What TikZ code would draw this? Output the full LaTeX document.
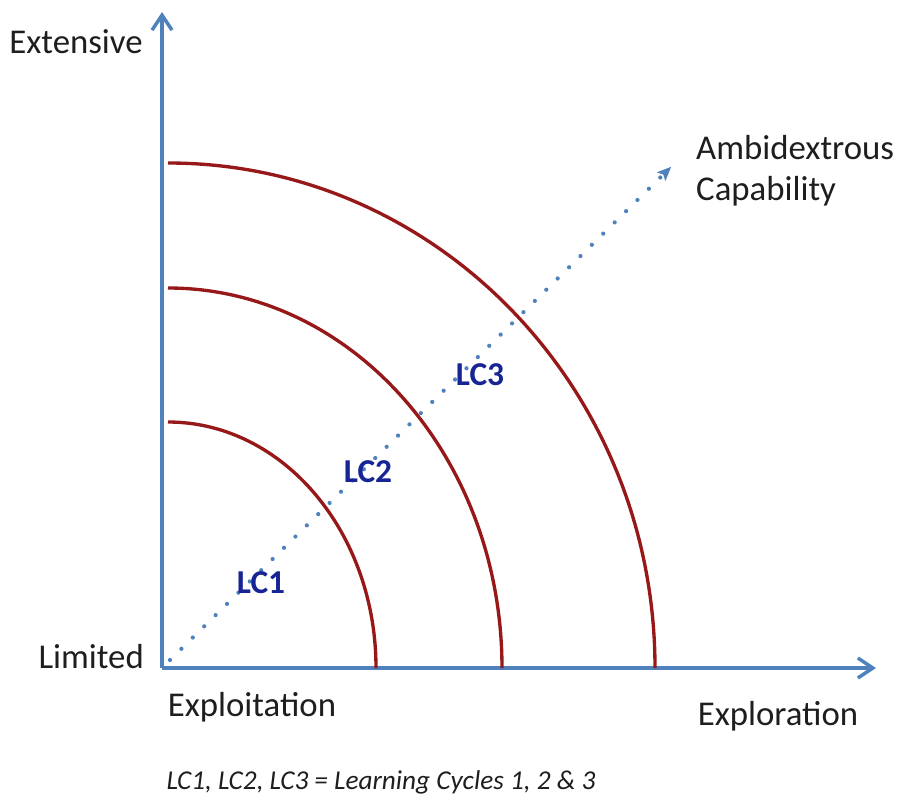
\documentclass[tikz,border=0pt]{standalone}
\usepackage{fontspec}
\setmainfont{Carlito}
\usepackage{tikz}
\usetikzlibrary{arrows.meta}

\definecolor{axisblue}{RGB}{79,129,189}
\definecolor{cyclered}{RGB}{150,24,24}
\definecolor{lcblue}{RGB}{22,36,148}
\definecolor{textgray}{RGB}{30,30,30}

\begin{document}
\begin{tikzpicture}[x=0.02cm,y=0.02cm,
 axis/.style={draw=axisblue,line width=2pt,-{Straight Barb[length=0.3cm,width=0.4cm,line width=2pt]}},
 cycle/.style={draw=cyclered,line width=1.9pt},
 growth/.style={draw=axisblue,line width=2.4pt,line cap=round,dash pattern=on 0pt off 0.32cm,
   -{Stealth[length=0.28cm,width=0.24cm,inset=0.06cm,line width=0.8pt,sep=0.08cm]}},
 lbl/.style={font=\fontsize{19.8}{23.5}\selectfont,text=textgray},
 lc/.style={font=\fontsize{19}{22}\selectfont\bfseries,text=lcblue}]
\useasboundingbox (0,0) rectangle (903,-805);
% axes
\coordinate (o) at (162,-668);
\coordinate (ytop) at (162,-12);
\coordinate (xend) at (876,-668);
\draw[axis] (o) -- (ytop);
\draw[axis] (o) -- (xend);
% learning cycles
\foreach \rx/\ry in {208/246,334/380,487/505}{
  \draw[cycle] (168,-668+\ry) arc[start angle=90,end angle=0,x radius=\rx,y radius=\ry];}
% ambidexterity direction
\coordinate (start) at (170,-660);
\coordinate (tip) at (674,-164);
\draw[growth] (start) -- (tip);
% labels
\node[lbl] (ext) at (76,-42) {Extensive};
\node[lbl,anchor=east] (lim) at (150,-657) {Limited};
\node[lbl] (expt) at (252,-707) {Exploitation};
\node[lbl] (expr) at (778,-716) {Exploration};
\node[lbl,anchor=west,align=left] (amb) at (690,-171) {Ambidextrous\\Capability};
\node[lc] (lc1) at (261,-583) {LC1};
\node[lc] (lc2) at (368,-472) {LC2};
\node[lc] (lc3) at (480,-375) {LC3};
\node[font=\fontsize{15.5}{18}\selectfont\itshape,text=textgray] (key) at (381,-782) {LC1, LC2, LC3 = Learning Cycles 1, 2 \& 3};
\end{tikzpicture}
\end{document}
